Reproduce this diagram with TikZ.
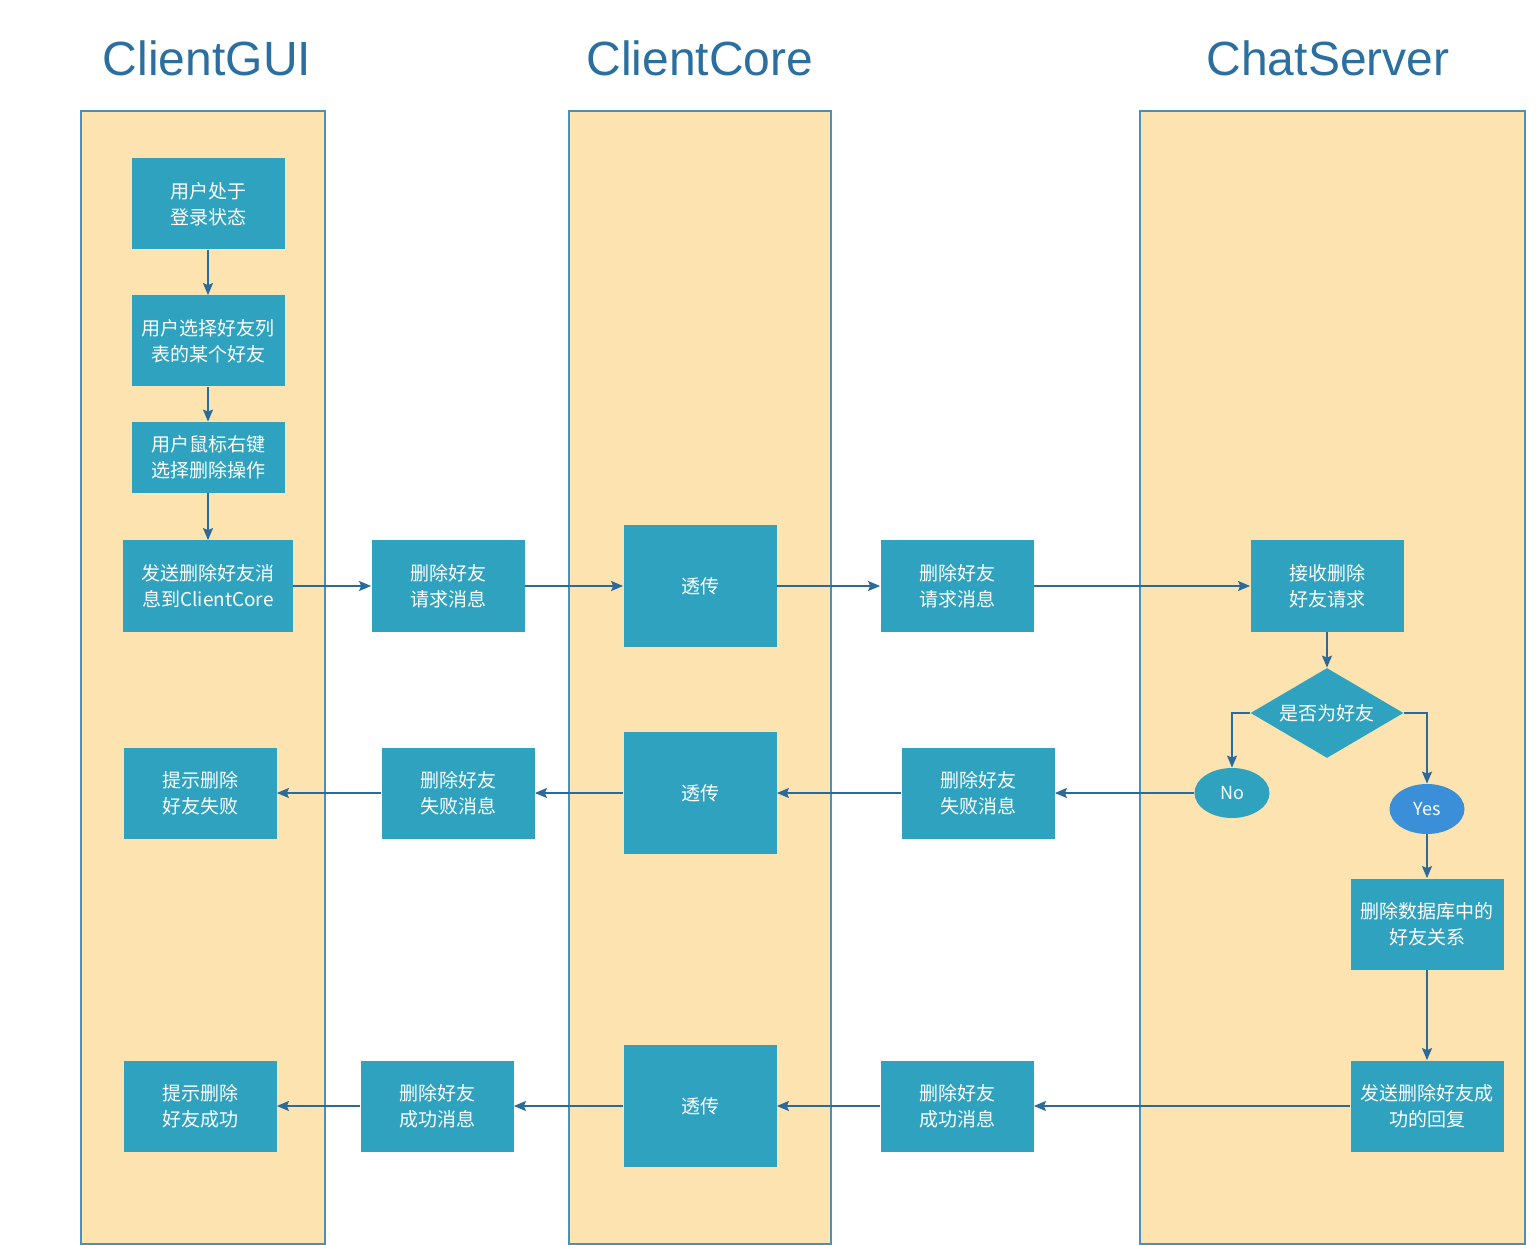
\documentclass[tikz,border=0pt]{standalone}
\usepackage{fontspec}
\setmainfont{Noto Sans CJK SC}
\newfontfamily\titlefont{Liberation Sans}
\usetikzlibrary{shapes.geometric,arrows.meta}
\definecolor{lanefill}{RGB}{253,227,176}
\definecolor{laneline}{RGB}{74,144,184}
\definecolor{boxfill}{RGB}{46,162,191}
\definecolor{yesfill}{RGB}{58,143,216}
\definecolor{arrowcol}{RGB}{44,106,154}
\definecolor{titlecol}{RGB}{42,111,160}

\begin{document}
\begin{tikzpicture}[x=0.5pt,y=-0.5pt,
  lane/.style={rectangle,draw=laneline,fill=lanefill,line width=0.6pt,inner sep=0},
  title/.style={font=\titlefont\fontsize{24}{28}\selectfont,text=titlecol},
  box/.style={rectangle,fill=boxfill,text=white,align=center,inner sep=0,
    font=\fontsize{9.5}{13}\selectfont,minimum width=76.5pt,minimum height=45.5pt},
  relay/.style={box,minimum height=61pt},
  check/.style={diamond,aspect=1.7,fill=boxfill,text=white,inner sep=0,
    font=\fontsize{9.5}{13}\selectfont,minimum width=76.5pt,minimum height=45pt},
  answer/.style={ellipse,fill=boxfill,text=white,inner sep=0,
    font=\fontsize{9}{11}\selectfont,minimum width=37.5pt,minimum height=25pt},
  arr/.style={-{Stealth[length=6pt,width=5pt,inset=1pt]},draw=arrowcol,line width=0.75pt}]
  \useasboundingbox (0,0) rectangle (1536,1245);

  % swim lanes
  \node[lane,minimum width=122pt,minimum height=566.5pt] (gui) at (203,677.5) {};
  \node[lane,minimum width=131pt,minimum height=566.5pt] (core) at (700,677.5) {};
  \node[lane,minimum width=192.5pt,minimum height=566.5pt] (server) at (1332.5,677.5) {};

  \node[title] (guit) at (207,58) {ClientGUI};
  \node[title] (coret) at (700,58) {ClientCore};
  \node[title] (servert) at (1328,58) {ChatServer};

  % request
  \node[box] (b1) at (208,204) {用户处于\\登录状态};
  \node[box] (b2) at (208,341) {用户选择好友列\\表的某个好友};
  \node[box,minimum height=35.5pt] (b3) at (208,457.5) {用户鼠标右键\\选择删除操作};
  \node[box,minimum width=85pt] (b4) at (208,586) {发送删除好友消\\息到ClientCore};
  \node[box] (m1) at (448,586) {删除好友\\请求消息};
  \node[relay] (t1) at (700,586) {透传};
  \node[box] (m2) at (957,586) {删除好友\\请求消息};
  \node[box] (s1) at (1327,586) {接收删除\\好友请求};
  \node[check] (isfriend) at (1327,713) {是否为好友};
  \node[answer] (no) at (1232,793) {No};
  \node[answer,fill=yesfill] (yes) at (1427,809) {Yes};

  % failure
  \node[box] (g1) at (200,793) {提示删除\\好友失败};
  \node[box] (m3) at (458,793) {删除好友\\失败消息};
  \node[relay] (t2) at (700,793) {透传};
  \node[box] (m4) at (978,793) {删除好友\\失败消息};

  % success
  \node[box] (s2) at (1427,924) {删除数据库中的\\好友关系};
  \node[box] (s3) at (1427,1106) {发送删除好友成\\功的回复};
  \node[box] (m6) at (957,1106) {删除好友\\成功消息};
  \node[relay] (t3) at (700,1106) {透传};
  \node[box] (m5) at (437,1106) {删除好友\\成功消息};
  \node[box] (g2) at (200,1106) {提示删除\\好友成功};

  \draw[arr] (b1) -- (b2);
  \draw[arr] (b2) -- (b3);
  \draw[arr] (b3) -- (b4);
  \draw[arr] (b4) -- (m1);
  \draw[arr] (m1) -- (t1);
  \draw[arr] (t1) -- (m2);
  \draw[arr] (m2) -- (s1);
  \draw[arr] (s1) -- (isfriend);
  \draw[arr] (isfriend.west) -| (no);
  \draw[arr] (isfriend.east) -| (yes);

  \draw[arr] (no) -- (m4);
  \draw[arr] (m4) -- (t2);
  \draw[arr] (t2) -- (m3);
  \draw[arr] (m3) -- (g1);

  \draw[arr] (yes) -- (s2);
  \draw[arr] (s2) -- (s3);
  \draw[arr] (s3) -- (m6);
  \draw[arr] (m6) -- (t3);
  \draw[arr] (t3) -- (m5);
  \draw[arr] (m5) -- (g2);

\end{tikzpicture}
\end{document}
